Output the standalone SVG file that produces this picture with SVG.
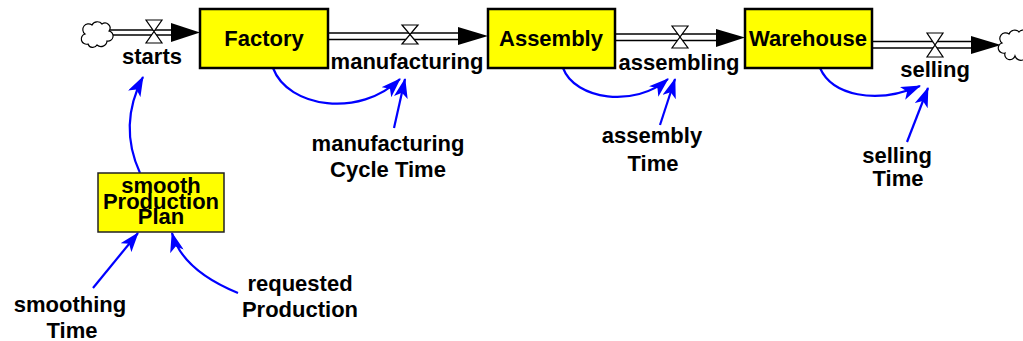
<svg xmlns="http://www.w3.org/2000/svg" width="1023" height="341" viewBox="0 0 1023 341">
<style>
text{font-family:"Liberation Sans",Arial,sans-serif;font-weight:bold;font-size:22px;fill:#000;text-anchor:middle}
.stock{fill:#FFFF00;stroke:#000;stroke-width:2.5}
.aux{fill:#FFFF00;stroke:#222;stroke-width:1.5}
.pipe{stroke:#000;stroke-width:1.5;fill:none}
.head{fill:#000}
.valve{fill:#fff;stroke:#000;stroke-width:1.2}
.cloud{fill:#fff;stroke:#000;stroke-width:1.2}
.link{fill:none;stroke:#0000FF;stroke-width:2.2;marker-end:url(#ah)}
</style>
<defs>
<marker id="ah" markerUnits="userSpaceOnUse" markerWidth="20" markerHeight="14" viewBox="0 0 20 14" refX="19" refY="7" orient="auto">
<path d="M0,0 L20,7 L0,14 L5,7 Z" fill="#0000FF"/>
</marker>
</defs>
<rect width="1023" height="341" fill="#fff"/>
<g id="connectors">
<g id="pipe-starts"><line class="pipe" x1="109" y1="30" x2="174" y2="30"/><line class="pipe" x1="109" y1="35" x2="174" y2="35"/><polygon class="head" points="171,23 200,32.5 171,42"/></g>
<g id="pipe-manufacturing"><line class="pipe" x1="328" y1="33" x2="460" y2="33"/><line class="pipe" x1="328" y1="39.5" x2="460" y2="39.5"/><polygon class="head" points="458,27 488,36 458,45"/></g>
<g id="pipe-assembling"><line class="pipe" x1="615" y1="34" x2="718" y2="34"/><line class="pipe" x1="615" y1="40.5" x2="718" y2="40.5"/><polygon class="head" points="716,29 745,37.5 716,47"/></g>
<g id="pipe-selling"><line class="pipe" x1="872" y1="41.5" x2="973" y2="41.5"/><line class="pipe" x1="872" y1="48" x2="973" y2="48"/><polygon class="head" points="971,36 1001,45 971,54"/></g>
<path class="link" d="M140,173 Q118,125 143,77"/>
<path class="link" d="M273,68 C288,108 360,118 400,79"/>
<path class="link" d="M394,128 L405,79"/>
<path class="link" d="M563,68 C575,100 635,108 668,79"/>
<path class="link" d="M660,125 L675,79"/>
<path class="link" d="M820,68 C832,95 875,105 920,86"/>
<path class="link" d="M907,142 L928,88"/>
<path class="link" d="M93,288 L138,233"/>
<path class="link" d="M238,293 Q182,270 172,233"/>
</g>
<g id="source-cloud"><path class="cloud" d="M88,44 A5,5 0 0 1 85,34 A5,5 0 0 1 92,25 A6,6 0 0 1 102,24 A5,5 0 0 1 109,31 A5,5 0 0 1 107,41 A6,6 0 0 1 97,45 A5,5 0 0 1 88,44 Z"/></g>
<g id="sink-cloud"><path class="cloud" d="M1005,53 A5,5 0 0 1 1002,43 A5,5 0 0 1 1009,34 A6,6 0 0 1 1019,32 A5,5 0 0 1 1027,38 L1027,52 A6,6 0 0 1 1015,56 A5,5 0 0 1 1005,53 Z"/></g>
<g id="starts"><path class="valve" d="M146,20 L162,20 L146,43 L162,43 Z"/><text x="152" y="64">starts</text></g>
<g id="manufacturing"><path class="valve" d="M402,25 L418,25 L402,44 L418,44 Z"/><text x="407" y="69">manufacturing</text></g>
<g id="assembling"><path class="valve" d="M672,26 L688,26 L672,48 L688,48 Z"/><text x="679" y="70">assembling</text></g>
<g id="selling"><path class="valve" d="M927,33 L943,33 L927,57 L943,57 Z"/><text x="935" y="77">selling</text></g>
<g id="factory"><rect class="stock" x="200" y="9" width="128" height="59"/><text x="264" y="46">Factory</text></g>
<g id="assembly"><rect class="stock" x="488" y="9" width="127" height="59"/><text x="551" y="46">Assembly</text></g>
<g id="warehouse"><rect class="stock" x="745" y="9" width="127" height="59"/><text x="808" y="46">Warehouse</text></g>
<g id="smoothProductionPlan"><rect class="aux" x="98" y="173" width="126" height="59"/><text x="161" y="193">smooth</text><text x="161" y="209">Production</text><text x="161" y="224">Plan</text></g>
<g id="manufacturingCycleTime"><text x="388" y="151">manufacturing</text><text x="388" y="177">Cycle Time</text></g>
<g id="assemblyTime"><text x="652" y="143">assembly</text><text x="653" y="171">Time</text></g>
<g id="sellingTime"><text x="897" y="163">selling</text><text x="898" y="186">Time</text></g>
<g id="smoothingTime"><text x="70" y="312">smoothing</text><text x="72" y="338">Time</text></g>
<g id="requestedProduction"><text x="300" y="291">requested</text><text x="300" y="317">Production</text></g>
</svg>
